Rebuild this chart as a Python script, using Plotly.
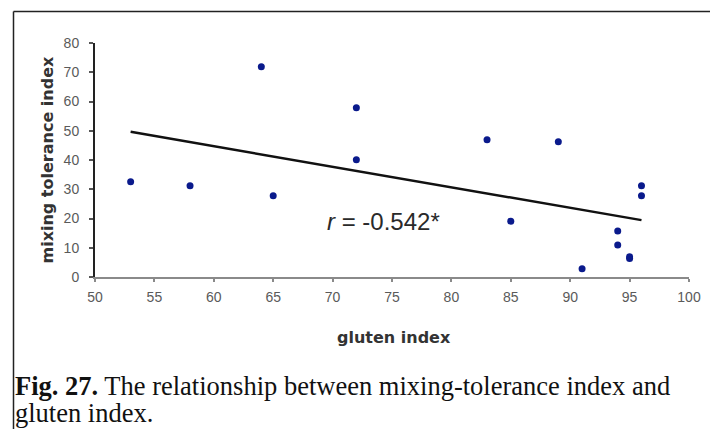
import numpy as np
import plotly.graph_objects as go

# Data
gluten_index = [53, 58, 64, 65, 72, 72, 83, 85, 89, 91, 94, 94, 95, 95, 96, 96]
mixing_tolerance = [32.6, 31.2, 71.9, 27.8, 57.9, 40.1, 46.9, 19.1, 46.2, 2.8,
                    15.7, 10.9, 6.3, 6.9, 31.2, 27.8]
x_ticks = [50, 55, 60, 65, 70, 75, 80, 85, 90, 95, 100]
y_ticks = [0, 10, 20, 30, 40, 50, 60, 70, 80]
r_label = "<i>r</i> = -0.542*"
caption_line1 = "<b>Fig. 27.</b> The relationship between mixing-tolerance index and"
caption_line2 = "gluten index."

# linear trend computed from the data
slope, intercept = np.polyfit(gluten_index, mixing_tolerance, 1)
trend_x = [min(gluten_index), max(gluten_index)]
trend_y = [slope * v + intercept for v in trend_x]

fig = go.Figure()
fig.add_trace(go.Scatter(x=trend_x, y=trend_y, mode="lines",
                         line=dict(color="#111111", width=2.5), hoverinfo="skip"))
fig.add_trace(go.Scatter(x=gluten_index, y=mixing_tolerance, mode="markers",
                         marker=dict(color="#0a1a8c", size=7, line=dict(width=0))))

W, H = 710, 429
L, R, T, B = 95, 21, 43, 152
pw, ph = W - L - R, H - T - B

def px_x(px):
    return (px - L) / pw

def px_y(py):
    return (H - B - py) / ph

serif = "Liberation Serif, Times New Roman, serif"

fig.update_layout(
    width=W, height=H,
    margin=dict(l=L, r=R, t=T, b=B, pad=0, autoexpand=False),
    paper_bgcolor="white", plot_bgcolor="white",
    showlegend=False,
    font=dict(family="Arial, Liberation Sans, sans-serif", color="#555555"),
    xaxis=dict(range=[50, 100], tickvals=x_ticks, showgrid=False, zeroline=False,
               showline=True, linecolor="#8a8a8a", linewidth=2,
               ticks="outside", ticklen=3, tickcolor="#8a8a8a", tickwidth=2,
               ticklabelstandoff=3,
               tickfont=dict(size=14, color="#5a5a5a")),
    yaxis=dict(range=[0, 80], tickvals=y_ticks, showgrid=False, zeroline=False,
               showline=True, linecolor="#222222", linewidth=2,
               ticks="outside", ticklen=4, tickcolor="#555555", tickwidth=2,
               ticklabelstandoff=7,
               tickfont=dict(size=14, color="#5a5a5a")),
    shapes=[
        dict(type="line", xref="paper", yref="paper",
             x0=px_x(13.5), x1=px_x(712), y0=px_y(11.5), y1=px_y(11.5),
             line=dict(color="#222222", width=1.5)),
        dict(type="line", xref="paper", yref="paper",
             x0=px_x(13.5), x1=px_x(13.5), y0=px_y(11.5), y1=px_y(432),
             line=dict(color="#222222", width=1.5)),
    ],
    annotations=[
        dict(text="<b>mixing tolerance index</b>", xref="paper", yref="paper",
             x=px_x(46.5), y=px_y(160), textangle=-90, showarrow=False,
             font=dict(size=16, color="#333333", family="DejaVu Sans, sans-serif"),
             xanchor="center", yanchor="middle"),
        dict(text="<b>gluten index</b>", xref="paper", yref="paper",
             x=px_x(394), y=px_y(337), showarrow=False,
             font=dict(size=16, color="#333333", family="DejaVu Sans, sans-serif"),
             xanchor="center", yanchor="middle"),
        dict(text=r_label, xref="paper", yref="paper",
             x=px_x(325), y=px_y(221), showarrow=False,
             font=dict(size=24, color="#2a2a2a"), xanchor="left", yanchor="middle"),
        dict(text=caption_line1, xref="paper", yref="paper",
             x=px_x(13), y=px_y(368.5), showarrow=False,
             align="left", xanchor="left", yanchor="top",
             font=dict(size=26.5, color="#111111", family=serif)),
        dict(text=caption_line2, xref="paper", yref="paper",
             x=px_x(13), y=px_y(396), showarrow=False,
             align="left", xanchor="left", yanchor="top",
             font=dict(size=26.5, color="#111111", family=serif)),
    ],
)

fig.write_html("out.html")
